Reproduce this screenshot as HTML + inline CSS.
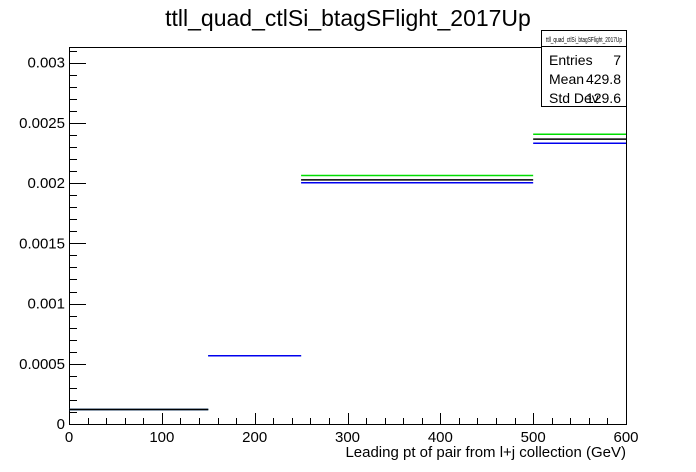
<!DOCTYPE html>
<html><head><meta charset="utf-8"><style>
body{margin:0;background:#fff}
svg{display:block;font-family:"Liberation Sans",sans-serif}
</style></head><body>
<svg id="c" width="696" height="472">
<text x="348" y="26" text-anchor="middle" font-size="23">ttll_quad_ctlSi_btagSFlight_2017Up</text>
<g id="plot"></g>
<text x="626" y="457" text-anchor="end" font-size="15">Leading pt of pair from l+j collection (GeV)</text>
<g>
<rect x="541.5" y="30.5" width="85" height="76" fill="#fff" stroke="#000"/>
<line x1="541.5" y1="46.5" x2="626.5" y2="46.5" stroke="#000"/>
<text x="584" y="42" text-anchor="middle" font-size="7" textLength="76" lengthAdjust="spacingAndGlyphs">ttll_quad_ctlSi_btagSFlight_2017Up</text>
<text x="549" y="65" font-size="14">Entries</text><text x="621" y="65" font-size="14" text-anchor="end">7</text>
<text x="549" y="84" font-size="14">Mean</text><text x="621" y="84" font-size="14" text-anchor="end">429.8</text>
<text x="549" y="103" font-size="14">Std Dev</text><text x="621" y="103" font-size="14" text-anchor="end">129.6</text>
</g>
</svg>
<script>
const binEdges=[0,150,250,500,600];
const greenVals=[0.00012,0.000567,0.002063,0.002406];
const blackVals=[0.00012,0.000567,0.002027,0.002365];
const blueVals=[0.00012,0.000567,0.002003,0.002331];
const yTicks=[0,0.0005,0.001,0.0015,0.002,0.0025,0.003];
const yTickLabels=["0","0.0005","0.001","0.0015","0.002","0.0025","0.003"];
const xTicks=[0,100,200,300,400,500,600];
const L=69,R=626,T=47,B=424;
const sx=v=>L+(v-0)/600*(R-L);
const sy=v=>B-v/0.003*(B-62.7);
const ns="http://www.w3.org/2000/svg";
const g=document.getElementById('plot');
function mk(t,a){const e=document.createElementNS(ns,t);for(const k in a)e.setAttribute(k,a[k]);g.appendChild(e);return e;}
const fr=mk('rect',{x:L+.5,y:T+.5,width:R-L,height:B-T,fill:'none',stroke:'#000'});


for(let v=0;v<=0.00311;v+=0.0001){const y=Math.round(sy(v))+.5;const maj=Math.abs(v/0.0005-Math.round(v/0.0005))<1e-6;
const t=mk('line',{x1:L,y1:y,x2:L+(maj?17:8),y2:y,stroke:'#000'});

}
yTicks.forEach((v,i)=>{const t=mk('text',{x:L-4,y:sy(v)+5,'text-anchor':'end','font-size':15});t.textContent=yTickLabels[i];

});
for(let v=0;v<=600;v+=20){const x=Math.round(sx(v))+.5;const maj=v%100==0;
const t=mk('line',{x1:x,y1:B,x2:x,y2:B-(maj?11:6),stroke:'#000'});

}
xTicks.forEach(v=>{const t=mk('text',{x:sx(v),y:B+18,'text-anchor':'middle','font-size':15});t.textContent=v;

});
[[greenVals,'#00dd00','green'],[blueVals,'#0000ee','blue'],[blackVals,'#000','black']].forEach(([vals,c,n])=>{
vals.forEach((v,i)=>{const y=sy(v);
const l=mk('line',{x1:sx(binEdges[i]),y1:y,x2:sx(binEdges[i+1]),y2:y,stroke:(n=='black'&&i==1)?'#0000ee':c,'stroke-width':1.5});

});});
</script>
</body></html>
